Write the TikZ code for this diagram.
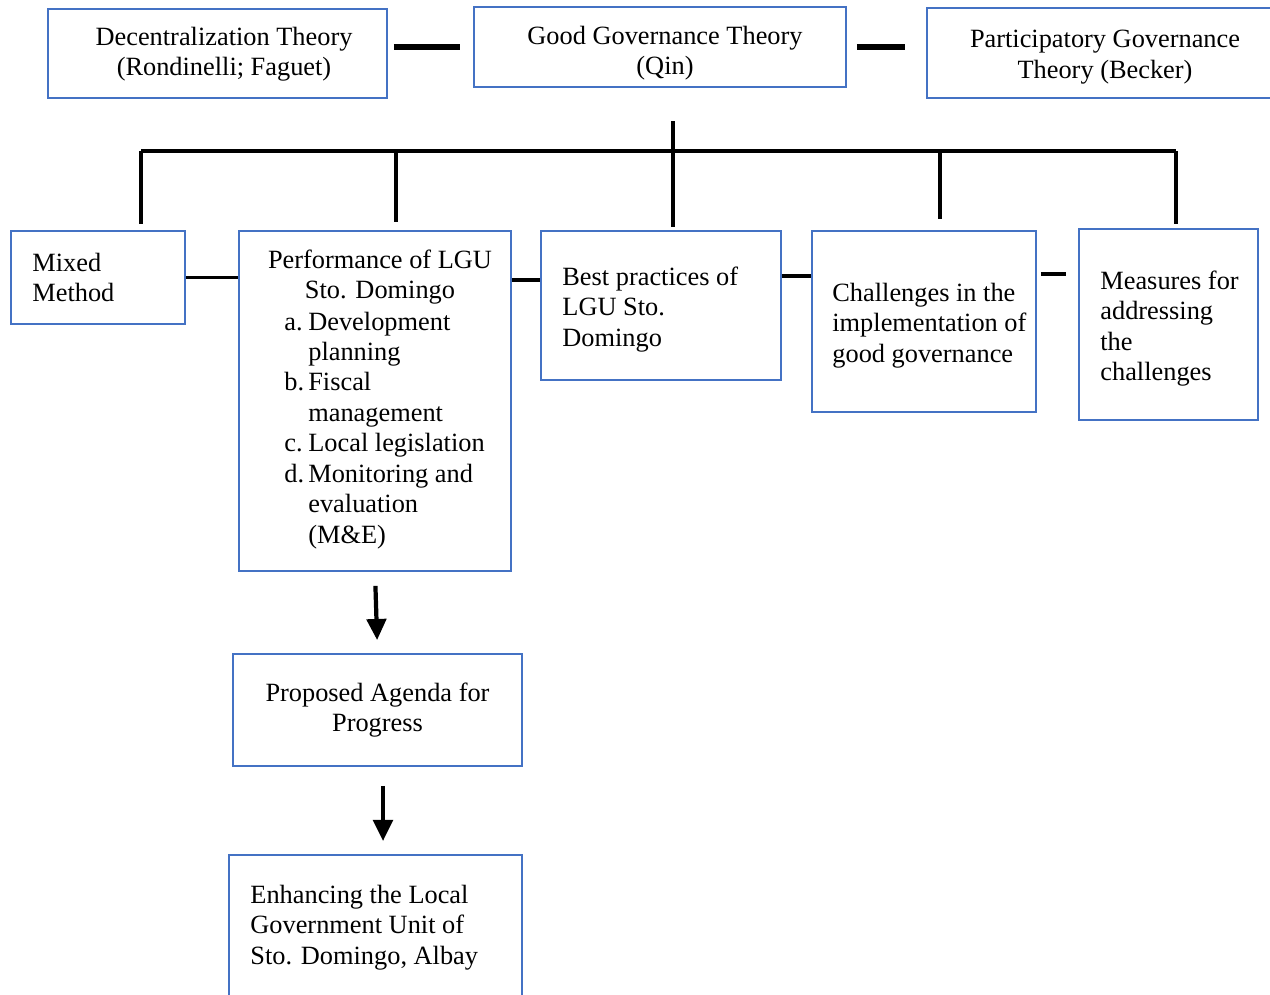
\documentclass[tikz,border=0pt]{standalone}
\usepackage{fontspec}
\setmainfont{Liberation Serif}
\usetikzlibrary{positioning,calc,arrows.meta}
\definecolor{boxblue}{HTML}{4472C4}

\begin{document}
\begin{tikzpicture}[x=0.02cm, y=-0.02cm,
            every node/.style={font=\fontsize{15}{17.35}\selectfont},
            box/.style={draw=boxblue, line width=1.1pt, inner sep=0pt},
            cbox/.style={box, align=center},
            txt/.style={inner sep=0pt, align=left, anchor=west},
            link/.style={line width=2pt},
            bar/.style={line width=3.2pt},
            down/.style={line width=2.4pt, -{Triangle[width=11pt,length=12pt]}}
        ]
          \useasboundingbox (0,0) rectangle (1270,994);
          \node[box, minimum width=6.78cm, minimum height=1.78cm] (th_dec) at (217.5,53.5) {};
          \node[box, minimum width=7.44cm, minimum height=1.6cm] (th_good) at (660,47) {};
          \node[box, minimum width=7.26cm, minimum height=1.8cm] (th_part) at (1108.5,53) {};
          \node[box, minimum width=3.48cm, minimum height=1.86cm] (mixed) at (98,277.5) {};
          \node[box, minimum width=5.44cm, minimum height=6.8cm] (perf) at (375,401) {};
          \node[box, minimum width=4.8cm, minimum height=2.98cm] (best) at (661,305.5) {};
          \node[box, minimum width=4.48cm, minimum height=3.62cm] (chal) at (924,321.5) {};
          \node[box, minimum width=3.58cm, minimum height=3.82cm] (meas) at (1168.5,324.5) {};
          \node[cbox, minimum width=5.78cm, minimum height=2.24cm] (agenda) at (377.5,710) {Proposed Agenda for\\Progress};
          \node[box, minimum width=5.86cm, minimum height=2.9cm] (enh) at (375.5,927.5) {};
          \node[align=center, inner sep=0pt] (th_dec_t) at (224,54) {Decentralization Theory\\(Rondinelli; Faguet)};
          \node[align=center, inner sep=0pt] (th_good_t) at (665,53) {Good Governance Theory\\(Qin)};
          \node[align=center, inner sep=0pt] (th_part_t) at (1105,57) {Participatory Governance\\Theory (Becker)};
          \node[txt] (mixed_t) at ([xshift=0.44cm]mixed.west) {Mixed\\Method};
          \node[txt] (best_t) at ([xshift=0.44cm,yshift=-0.08cm]best.west) {Best practices of\\LGU Sto.\\Domingo};
          \node[txt] (chal_t) at ([xshift=0.42cm,yshift=-0.08cm]chal.west) {Challenges in the\\implementation of\\good governance};
          \node[txt] (meas_t) at ([xshift=0.44cm,yshift=-0.08cm]meas.west) {Measures for\\addressing\\the\\challenges};
          \node[txt] (enh_t) at ([xshift=0.44cm]enh.west) {Enhancing the Local\\Government Unit of\\Sto. Domingo, Albay};
          \node[inner sep=0pt, anchor=base] (perf_head) at (380,268)
            {\begin{tabular}[t]{@{}c@{}}Performance of LGU\\Sto. Domingo\end{tabular}};
          \node[inner sep=0pt, anchor=base west] (perf_list) at (284,330)
            {\begin{tabular}[t]{@{}p{0.48cm}@{}l@{}}
              a. & Development\\ & planning\\
              b. & Fiscal\\ & management\\
              c. & Local legislation\\
              d. & Monitoring and\\ & evaluation\\ & (M\&E)
            \end{tabular}};
          \coordinate (stem_top) at (673,121);
          \coordinate (bus_l) at (141,151);
          \coordinate (bus_r) at (1176,151);
          \coordinate (pb) at ([yshift=0.51cm]best.west);
          \coordinate (bc) at ([yshift=0.91cm]chal.west);
          \coordinate (cm) at ([yshift=1.01cm]meas.west);
          \coordinate (ag_out) at ([xshift=0.11cm]agenda.south);
          \draw[bar, shorten <=0.12cm, shorten >=0.26cm] (th_dec.east |- th_good.west) -- (th_good.west);
          \draw[bar, shorten <=0.2cm, shorten >=0.42cm] (th_good.east) -- (th_good.east -| th_part.west);
          \draw[link] (bus_l) -- (bus_r);
          \draw[link, shorten >=0.06cm] (stem_top) -- (stem_top |- best.north);
          \foreach \bx/\tgt/\gap in {141/mixed/0.12, 396/perf/0.16, 940/chal/0.22, 1176/meas/0.08} {
            \coordinate (drop_\tgt) at (\bx,151);
            \draw[link, shorten >=\gap cm] (drop_\tgt) -- (drop_\tgt |- \tgt.north);
          }
          \draw[link] (mixed.east) -- (mixed.east -| perf.west);
          \draw[link] (pb -| perf.east) -- (pb);
          \draw[link] (bc -| best.east) -- (bc);
          \draw[link, shorten <=0.08cm, shorten >=0.24cm] (cm -| chal.east) -- (cm);
          \draw[down, shorten <=0.28cm, shorten >=0.26cm] (perf.south) -- (agenda.north);
          \draw[down, shorten <=0.38cm, shorten >=0.26cm] (ag_out) -- (ag_out |- enh.north);
        \end{tikzpicture}
\end{document}
